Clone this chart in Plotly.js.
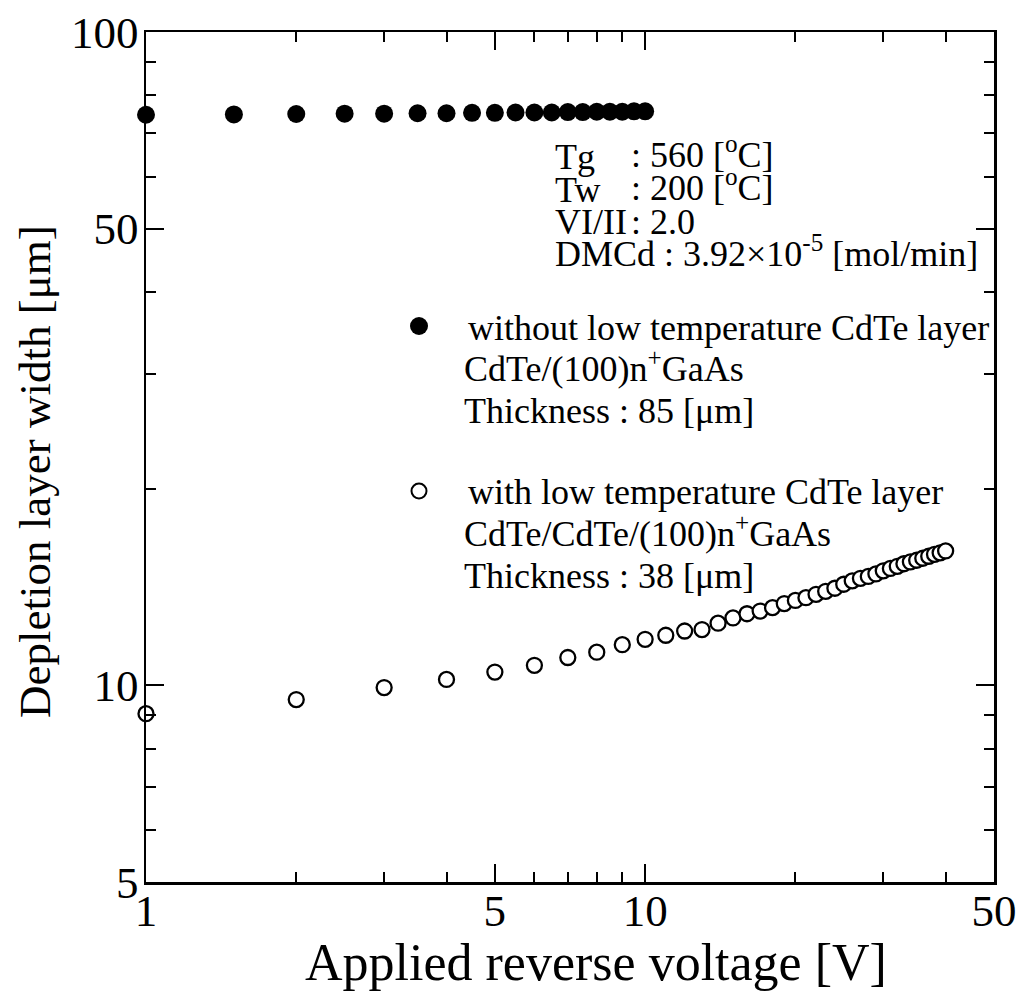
<!DOCTYPE html>
<html>
<head>
<meta charset="utf-8">
<script src="https://cdn.plot.ly/plotly-3.0.1.min.js"></script>
<style>
  html, body { margin: 0; padding: 0; background: #fff; }
  #chart { width: 1026px; height: 1007px; }
</style>
</head>
<body>
<div id="chart"></div>
<script>
// Depletion layer width vs applied reverse voltage (log-log)

// Without low temperature CdTe layer: CdTe/(100)n+GaAs, 85 um thick
const voltageThick = [1, 1.5, 2, 2.5, 3, 3.5, 4, 4.5, 5, 5.5, 6, 6.5, 7, 7.5, 8, 8.5, 9, 9.5, 10];
const widthThick = [74.7, 74.8, 74.9, 75.0, 75.0, 75.1, 75.1, 75.2, 75.2, 75.3, 75.3, 75.3, 75.4, 75.4, 75.5, 75.5, 75.5, 75.6, 75.6];

// With low temperature CdTe layer: CdTe/CdTe/(100)n+GaAs, 38 um thick
const voltageThin = [1, 2, 3, 4, 5, 6, 7, 8, 9, 10,
                     11, 12, 13, 14, 15, 16, 17, 18, 19, 20,
                     21, 22, 23, 24, 25, 26, 27, 28, 29, 30,
                     31, 32, 33, 34, 35, 36, 37, 38, 39, 40];
const widthThin = [9.05, 9.51, 9.92, 10.21, 10.48, 10.73, 11.03, 11.24, 11.54, 11.76,
                   11.93, 12.11, 12.17, 12.45, 12.68, 12.87, 12.99, 13.15, 13.34, 13.49,
                   13.62, 13.78, 13.93, 14.08, 14.28, 14.45, 14.58, 14.68, 14.81, 14.97,
                   15.10, 15.21, 15.35, 15.45, 15.54, 15.65, 15.76, 15.87, 15.95, 16.06];

// Axis ticks
const xMajorTicks = [1, 5, 10, 50];
const xMajorLabels = ['1', '5', '10', '50'];
const xMinorTicks = [2, 3, 4, 6, 7, 8, 9, 20, 30, 40];
const yMajorTicks = [5, 10, 50, 100];
const yMajorLabels = ['5', '10', '50', '100'];
const yMinorTicks = [6, 7, 8, 9, 20, 30, 40, 60, 70, 80, 90];

// Axis titles
const xTitle = 'Applied reverse voltage [V]';
const yTitle = 'Depletion layer width [μm]';

// Growth conditions block
const condNames = ['Tg', 'Tw', 'VI/II'];
const condValues = [': 560 [<sup>o</sup>C]', ': 200 [<sup>o</sup>C]', ': 2.0'];
const condDMCd = 'DMCd : 3.92×10<sup>-5</sup> [mol/min]';

// Sample descriptions
const sampleThickText = ['without low temperature CdTe layer', 'CdTe/(100)n<sup>+</sup>GaAs', 'Thickness : 85 [μm]'];
const sampleThinText = ['with low temperature CdTe layer', 'CdTe/CdTe/(100)n<sup>+</sup>GaAs', 'Thickness : 38 [μm]'];

const FONT = 'Liberation Serif, Times New Roman, Times, serif';

// plot area in pixels
const L = 146, R = 994, T = 32, B = 882;
const W = 1026, H = 1007;
const px = x => (x - L) / (R - L);
const py = y => (B - y) / (B - T);

const traces = [
  {
    x: voltageThick, y: widthThick, type: 'scatter', mode: 'markers',
    marker: { symbol: 'circle', size: 18, color: 'black', line: { width: 0 } },
    cliponaxis: false, showlegend: false
  },
  {
    x: voltageThin, y: widthThin, type: 'scatter', mode: 'markers',
    marker: { symbol: 'circle', size: 15, color: 'white', line: { color: 'black', width: 2.3 } },
    cliponaxis: false, showlegend: false
  }
];

const textFont = { family: FONT, size: 36, color: 'black' };
const hasSup = t => t.indexOf('<sup>') >= 0;
const annotations = [];
function addText(text, x, y) {
  annotations.push({
    xref: 'paper', yref: 'paper', x: px(x), y: py(y), text: text,
    showarrow: false, xanchor: 'left', yanchor: 'middle', font: textFont,
    borderpad: 0, yshift: hasSup(text) ? 5 : 0
  });
}

const condY = [157, 190, 222];
condNames.forEach((n, i) => {
  addText(n, 554, condY[i]);
  addText(condValues[i], 630, condY[i]);
});
addText(condDMCd, 554, 256);

const thickY = [328, 371, 411];
sampleThickText.forEach((t, i) => addText(t, i === 0 ? 467 : 463, thickY[i]));
const thinY = [492, 536, 576];
sampleThinText.forEach((t, i) => addText(t, i === 0 ? 467 : 463, thinY[i]));

// axis titles, placed under / beside the frame
annotations.push({
  xref: 'paper', yref: 'paper', x: px(596), y: py(962), text: xTitle,
  showarrow: false, xanchor: 'center', yanchor: 'middle', borderpad: 0,
  font: { family: FONT, size: 52, color: 'black' }
});
annotations.push({
  xref: 'paper', yref: 'paper', x: px(35), y: py(472), text: yTitle, textangle: -90,
  showarrow: false, xanchor: 'center', yanchor: 'middle', borderpad: 0,
  font: { family: FONT, size: 45, color: 'black' }
});

// legend bullets
const shapes = [
  { type: 'circle', xref: 'paper', yref: 'paper', xsizemode: 'pixel', ysizemode: 'pixel',
    xanchor: px(419), yanchor: py(326), x0: -9, x1: 9, y0: -9, y1: 9,
    fillcolor: 'black', line: { width: 0 } },
  { type: 'circle', xref: 'paper', yref: 'paper', xsizemode: 'pixel', ysizemode: 'pixel',
    xanchor: px(419), yanchor: py(491), x0: -7.5, x1: 7.5, y0: -7.5, y1: 7.5,
    fillcolor: 'white', line: { color: 'black', width: 2 } }
];

const axisCommon = {
  type: 'log', showgrid: false, zeroline: false,
  showline: true, linecolor: 'black', linewidth: 2.5, mirror: 'ticks',
  ticks: 'inside', ticklen: 18, tickwidth: 2, tickcolor: 'black',
  tickfont: { family: FONT, size: 45, color: 'black' },
  tickmode: 'array'
};

const layout = {
  width: W, height: H,
  margin: { l: L, r: W - R, t: T, b: H - B, pad: 0 },
  paper_bgcolor: 'white', plot_bgcolor: 'white',
  font: { family: FONT, color: 'black' },
  showlegend: false,
  xaxis: Object.assign({}, axisCommon, {
    range: [0, Math.log10(50)],
    tickvals: xMajorTicks, ticktext: xMajorLabels,
    ticklabelstandoff: -13,
    minor: { tickmode: 'array', tickvals: xMinorTicks, ticks: 'inside', ticklen: 10, tickwidth: 2, tickcolor: 'black', showgrid: false }
  }),
  yaxis: Object.assign({}, axisCommon, {
    range: [Math.log10(5), 2],
    tickvals: yMajorTicks, ticktext: yMajorLabels,
    ticklabelstandoff: -4,
    minor: { tickmode: 'array', tickvals: yMinorTicks, ticks: 'inside', ticklen: 10, tickwidth: 2, tickcolor: 'black', showgrid: false }
  }),
  annotations: annotations,
  shapes: shapes
};

Plotly.newPlot('chart', traces, layout, { displayModeBar: false, staticPlot: true });
</script>
</body>
</html>
